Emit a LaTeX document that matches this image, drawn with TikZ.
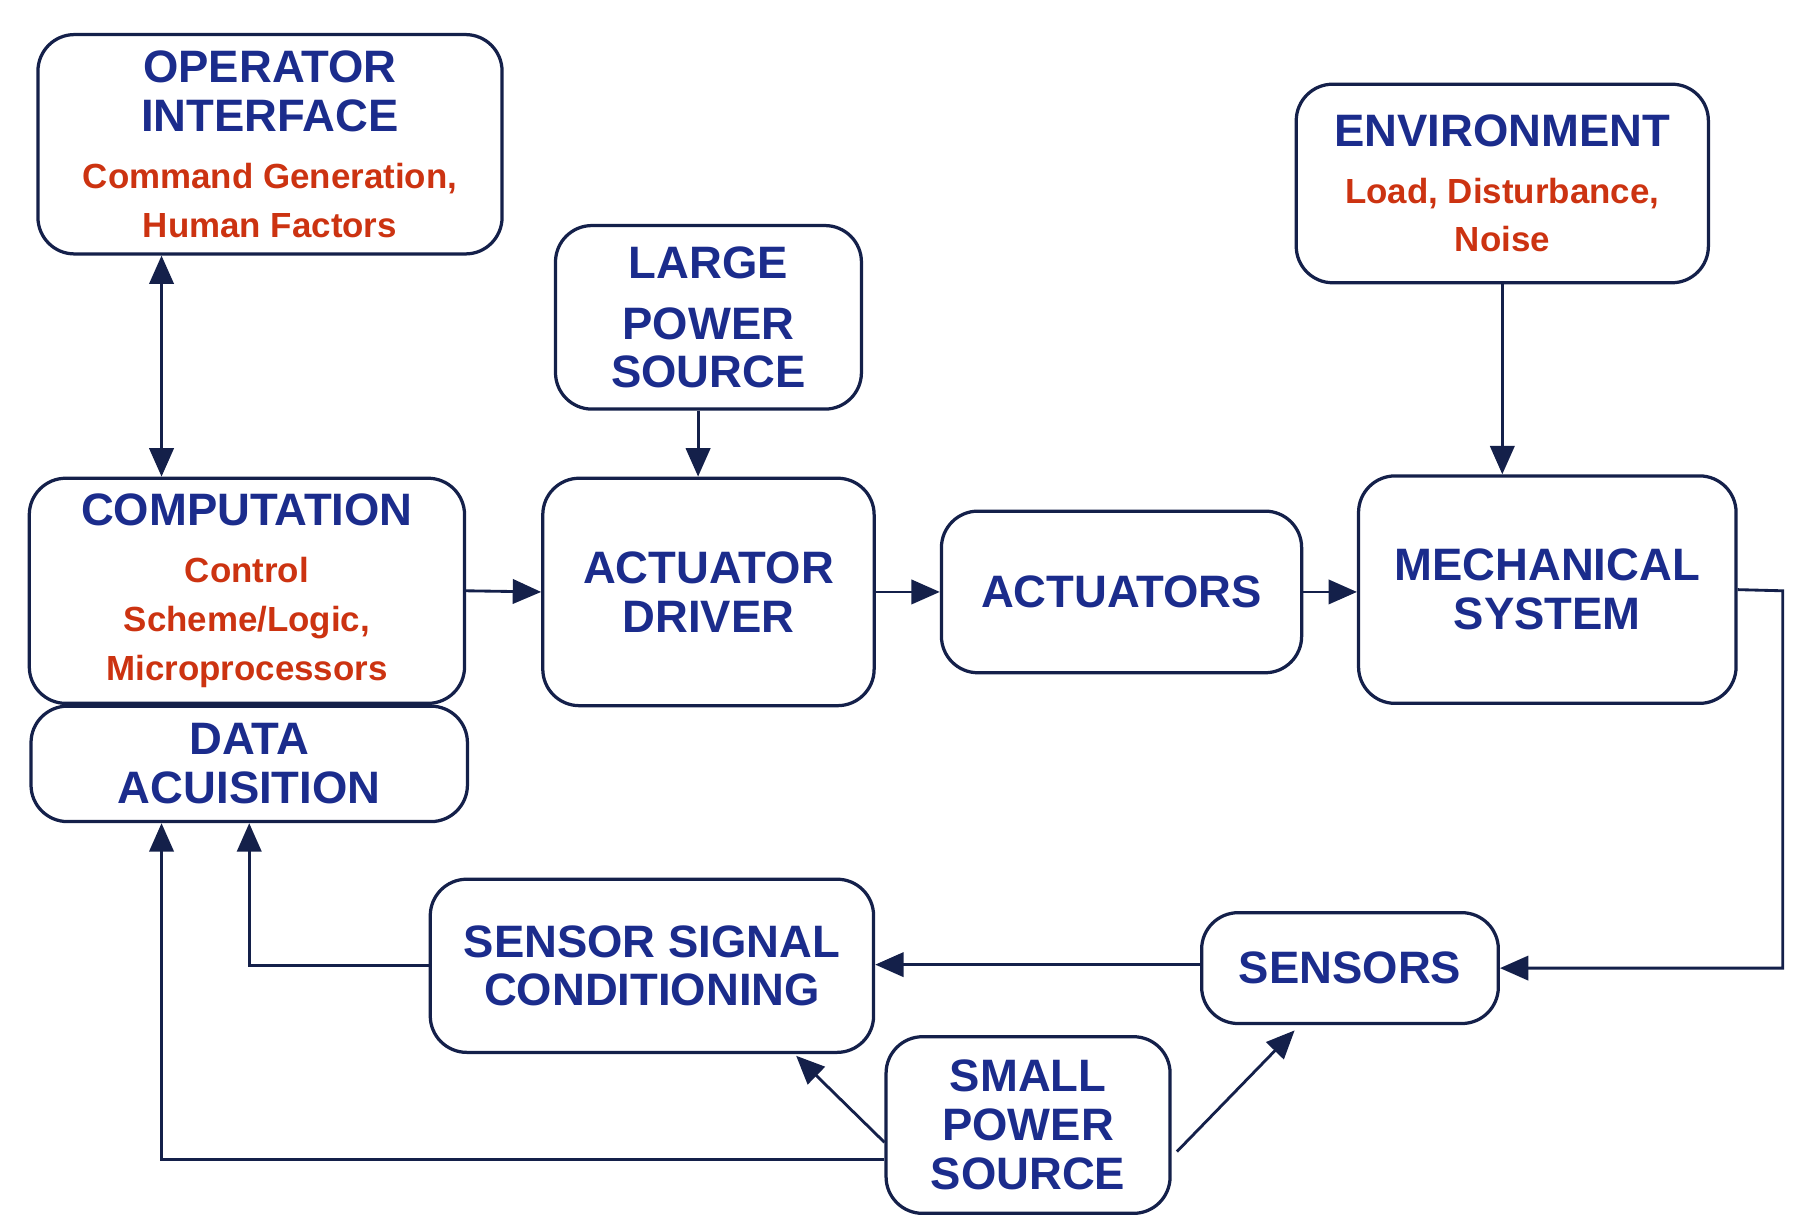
\documentclass[tikz,border=0pt]{standalone}
\usepackage{fontspec}
\setmainfont{Liberation Sans}
\usetikzlibrary{arrows.meta,positioning}
\definecolor{ttl}{HTML}{1B2C8C}
\definecolor{sub}{HTML}{CC3311}
\definecolor{lnk}{HTML}{14204A}
\newcommand{\ttlf}{\fontsize{11.2}{14.2}\selectfont\bfseries\color{ttl}}
\newcommand{\subf}{\fontsize{8.6}{10.8}\selectfont\bfseries\color{sub}}
\begin{document}
\begin{tikzpicture}[
    x=0.01cm, y=-0.01cm,
    >={Triangle[width=6pt,length=7pt]},
    blk/.style={rectangle, rounded corners=9pt, draw=lnk, line width=0.8pt, align=center, inner sep=0pt},
    link/.style={->, draw=lnk, line width=0.7pt}
  ]
    \useasboundingbox (0,0) rectangle (1560,1059);
    \node[blk, minimum width=4.02cm, minimum height=1.90cm] (oper) at (234,125) {\ttlf OPERATOR\\\ttlf INTERFACE\\[2pt]\subf Command Generation,\\\subf Human Factors};
    \node[blk, minimum width=2.65cm, minimum height=1.59cm] (lps) at (614,275) {\ttlf LARGE\\[3pt]\ttlf POWER\\\ttlf SOURCE};
    \node[blk, minimum width=3.57cm, minimum height=1.72cm] (env) at (1302,159) {\ttlf ENVIRONMENT\\[2pt]\subf Load, Disturbance,\\\subf Noise};
    \node[blk, minimum width=3.77cm, minimum height=1.95cm] (comp) at (214,512) {\ttlf COMPUTATION\\[2pt]\subf Control\\\subf Scheme/Logic,\\\subf Microprocessors};
    \node[blk, minimum width=2.87cm, minimum height=1.97cm] (drv) at (614,513) {\ttlf ACTUATOR\\\ttlf DRIVER};
    \node[blk, minimum width=3.12cm, minimum height=1.40cm] (act) at (972,513) {\ttlf ACTUATORS};
    \node[blk, minimum width=3.27cm, minimum height=1.97cm] (mech) at (1341,511) {\ttlf MECHANICAL\\\ttlf SYSTEM};
    \node[blk, minimum width=3.78cm, minimum height=1.00cm] (daq) at (216,662) {\ttlf DATA\\\ttlf ACUISITION};
    \node[blk, minimum width=3.84cm, minimum height=1.50cm] (ssc) at (565,837) {\ttlf SENSOR SIGNAL\\\ttlf CONDITIONING};
    \node[blk, minimum width=2.57cm, minimum height=0.96cm] (sens) at (1170,839) {\ttlf SENSORS};
    \node[blk, minimum width=2.46cm, minimum height=1.53cm] (sps) at (891,975) {\ttlf SMALL\\\ttlf POWER\\\ttlf SOURCE};

    \coordinate (mr) at (1545,512);
    \draw[link, <->] (oper.south -| 140,0) -- (comp.north -| 140,0);
    \draw[link] (lps.south -| 605,0) -- (drv.north -| 605,0);
    \draw[link] (env.south) -- (mech.north -| env.south);
    \draw[link] (comp.east) -- (drv.west);
    \draw[link] (drv.east) -- (act.west);
    \draw[link] (act.east) -- (mech.west |- act.east);
    \draw[link] (mech.east) -- (mr) |- (sens.east);
    \draw[link] (sens.west |- 0,836) -- (ssc.east |- 0,836);
    \draw[link] (ssc.west) -| (daq.south);
    \draw[link] (sps.west |- 0,1005) -| (daq.south -| 140,0);
    \draw[link] (sps.west |- 0,990) -- (690,915);
    \draw[link] (1020,998) -- (1122,893);
\end{tikzpicture}
\end{document}
